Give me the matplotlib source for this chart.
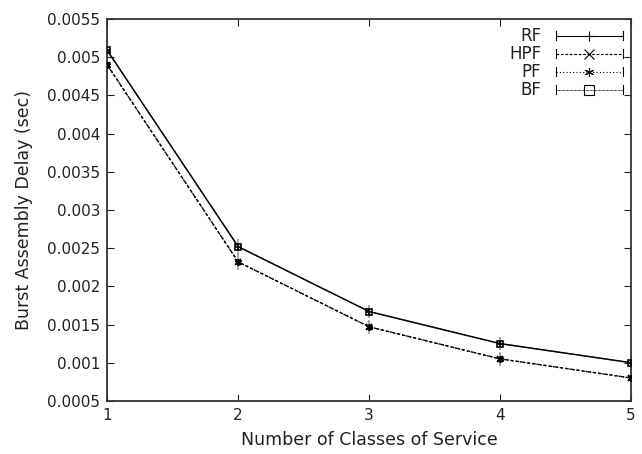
import matplotlib
matplotlib.use('Agg')
import matplotlib.pyplot as plt
from matplotlib.lines import Line2D
from matplotlib.legend_handler import HandlerLine2D

# data
classes = [1, 2, 3, 4, 5]
rf = [0.00509, 0.00252, 0.00167, 0.00125, 0.00100]
hpf = [0.00490, 0.00232, 0.00147, 0.00105, 0.00080]
pf = [0.00490, 0.00232, 0.00147, 0.00105, 0.00080]
bf = [0.00509, 0.00252, 0.00167, 0.00125, 0.00100]
err = [0.00008, 0.00010, 0.00009, 0.00009, 0.00006]

names = ['RF', 'HPF', 'PF', 'BF']
series = [rf, hpf, pf, bf]
styles = ['-', (0, (2.5, 1.5)), (0, (1, 2)), (0, (0.6, 0.6))]
markers = ['+', 'x', (6, 2, 0), 's']


class CapHandler(HandlerLine2D):
    """line with small end caps, like gnuplot's errorbar key"""
    def create_artists(self, legend, orig_handle, xdescent, ydescent,
                       width, height, fontsize, trans):
        arts = super().create_artists(legend, orig_handle, xdescent, ydescent,
                                      width, height, fontsize, trans)
        y = height / 2 - ydescent
        for x in (-xdescent, width - xdescent):
            cap = Line2D([x, x], [y - 3, y + 3], color='black', linewidth=0.8,
                         transform=trans)
            arts.append(cap)
        return arts


def main():
    fig = plt.figure(figsize=(6.42, 4.54), dpi=100)
    ax = fig.add_axes([0.167, 0.117, 0.816, 0.841])

    handles = []
    for name, vals, ls, mk in zip(names, series, styles, markers):
        ax.errorbar(classes, vals, yerr=err, fmt='none', ecolor='#aaaaaa',
                    elinewidth=1.3, capsize=0, zorder=2)
        ax.plot(classes, vals, color='black', linestyle=ls, linewidth=1,
                marker=mk, markersize=5, markerfacecolor='none',
                markeredgecolor='black', markeredgewidth=1.2, zorder=3)
        handles.append(Line2D([], [], color='black', linestyle=ls, linewidth=0.8,
                              marker=mk, markersize=6.5, markerfacecolor='none',
                              markeredgewidth=0.8))

    ax.set_xlim(1, 5)
    ax.set_ylim(0.0005, 0.0055)
    ax.set_xticks(classes)
    ax.set_yticks([0.0005 + 0.0005 * i for i in range(11)])
    ax.set_yticklabels(['0.0005', '0.001', '0.0015', '0.002', '0.0025', '0.003',
                        '0.0035', '0.004', '0.0045', '0.005', '0.0055'])
    ax.tick_params(direction='in', top=True, right=True, length=5,
                   labelsize=11, colors='#222222', pad=5)
    for s in ax.spines.values():
        s.set_color('#333333')
        s.set_linewidth(1.3)

    ax.set_xlabel('Number of Classes of Service', fontsize=12.5, color='#222222',
                  labelpad=6)
    ax.set_ylabel('Burst Assembly Delay (sec)', fontsize=12.5, color='#222222',
                  labelpad=10)

    leg = ax.legend(handles, names, loc='upper right', frameon=False,
                    markerfirst=False, fontsize=12, handlelength=4.0,
                    labelspacing=0.0, borderaxespad=0.2, borderpad=0.3,
                    handletextpad=0.9,
                    handler_map={h: CapHandler() for h in handles})
    for t in leg.get_texts():
        t.set_ha('right')
        t.set_color('#222222')

    fig.savefig('out.png', dpi=100)


if __name__ == '__main__':
    main()
